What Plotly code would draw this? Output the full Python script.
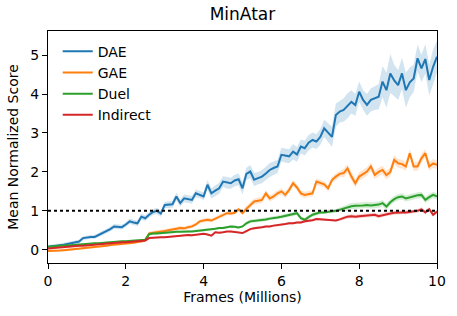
import plotly.graph_objects as go

frames = [round(i * 0.1, 1) for i in range(101)]

dae = [0.08, 0.09, 0.10, 0.12, 0.13, 0.15, 0.17, 0.19, 0.21, 0.30,
       0.32, 0.33, 0.33, 0.38, 0.42, 0.47, 0.53, 0.60, 0.59, 0.58,
       0.65, 0.73, 0.70, 0.68, 0.85, 0.81, 0.90, 0.97, 1.00, 0.93,
       1.15, 1.16, 1.17, 1.37, 1.20, 1.32, 1.30, 1.28, 1.45, 1.42,
       1.37, 1.67, 1.45, 1.52, 1.58, 1.75, 1.72, 1.71, 1.78, 1.81,
       1.58, 1.95, 2.01, 1.80, 1.84, 1.88, 1.96, 2.05, 2.10, 2.14,
       2.44, 2.42, 2.40, 2.52, 2.45, 2.65, 2.61, 2.75, 2.82, 2.78,
       2.90, 3.12, 3.00, 2.90, 3.46, 3.55, 3.59, 3.70, 3.80, 3.72,
       4.06, 3.85, 3.72, 3.85, 3.89, 3.93, 4.32, 4.10, 4.53, 4.35,
       4.23, 4.53, 4.10, 4.30, 4.40, 4.92, 4.66, 4.90, 4.36, 4.70,
       4.96]
dae_err = [0.04, 0.04, 0.04, 0.04, 0.05, 0.05, 0.05, 0.05, 0.05, 0.05,
           0.05, 0.05, 0.05, 0.05, 0.05, 0.06, 0.06, 0.06, 0.06, 0.06,
           0.06, 0.07, 0.07, 0.07, 0.08, 0.07, 0.07, 0.08, 0.08, 0.08,
           0.08, 0.09, 0.09, 0.10, 0.09, 0.10, 0.09, 0.10, 0.10, 0.09,
           0.10, 0.12, 0.13, 0.13, 0.14, 0.14, 0.15, 0.14, 0.15, 0.15,
           0.16, 0.16, 0.17, 0.17, 0.16, 0.17, 0.17, 0.18, 0.17, 0.17,
           0.18, 0.18, 0.18, 0.20, 0.19, 0.18, 0.19, 0.20, 0.19, 0.19,
           0.20, 0.22, 0.24, 0.26, 0.30, 0.28, 0.30, 0.32, 0.30, 0.28,
           0.26, 0.25, 0.28, 0.30, 0.30, 0.32, 0.40, 0.45, 0.50, 0.40,
           0.38, 0.40, 0.45, 0.38, 0.35, 0.35, 0.35, 0.38, 0.40, 0.45,
           0.40]

gae = [-0.03, -0.03, -0.02, -0.02, -0.01, 0.00, 0.00, 0.02, 0.03, 0.04,
       0.05, 0.06, 0.07, 0.08, 0.09, 0.10, 0.12, 0.13, 0.14, 0.14,
       0.16, 0.17, 0.18, 0.20, 0.21, 0.24, 0.42, 0.44, 0.45, 0.46,
       0.48, 0.50, 0.53, 0.54, 0.56, 0.55, 0.58, 0.60, 0.65, 0.73,
       0.75, 0.77, 0.75, 0.80, 0.85, 0.88, 0.94, 0.93, 0.95, 1.04,
       0.94, 1.05, 1.15, 1.24, 1.26, 1.28, 1.45, 1.32, 1.37, 1.45,
       1.50, 1.41, 1.54, 1.71, 1.60, 1.45, 1.41, 1.44, 1.45, 1.75,
       1.71, 1.68, 1.58, 1.79, 1.88, 1.95, 1.97, 2.09, 1.88, 1.71,
       1.88, 1.95, 2.01, 2.14, 1.92, 2.00, 2.05, 1.92, 2.00, 2.31,
       2.22, 2.20, 2.14, 2.48, 2.14, 2.14, 2.35, 2.48, 2.14, 2.22,
       2.18]
gae_err = [0.03] * 26 + [0.05] * 25 + [0.08] * 25 + [0.11] * 25

duel = [0.08, 0.09, 0.09, 0.10, 0.11, 0.11, 0.12, 0.13, 0.14, 0.14,
        0.15, 0.16, 0.17, 0.17, 0.18, 0.19, 0.20, 0.20, 0.21, 0.22,
        0.22, 0.23, 0.24, 0.25, 0.25, 0.26, 0.40, 0.42, 0.42, 0.43,
        0.44, 0.44, 0.45, 0.46, 0.46, 0.47, 0.47, 0.47, 0.48, 0.49,
        0.50, 0.51, 0.52, 0.54, 0.56, 0.56, 0.58, 0.60, 0.59, 0.57,
        0.60, 0.68, 0.73, 0.74, 0.76, 0.77, 0.78, 0.80, 0.81, 0.83,
        0.85, 0.87, 0.90, 0.91, 0.94, 0.81, 0.77, 0.84, 0.90, 0.93,
        0.96, 0.96, 0.98, 0.99, 1.00, 1.03, 1.05, 1.08, 1.12, 1.13,
        1.13, 1.14, 1.15, 1.14, 1.15, 1.16, 1.20, 1.11, 1.22, 1.30,
        1.35, 1.37, 1.32, 1.35, 1.37, 1.40, 1.41, 1.28, 1.35, 1.41,
        1.37]
duel_err = [0.02] * 26 + [0.03] * 25 + [0.05] * 25 + [0.08] * 25

indirect = [0.03, 0.04, 0.05, 0.06, 0.06, 0.07, 0.08, 0.09, 0.10, 0.10,
            0.11, 0.12, 0.13, 0.14, 0.14, 0.15, 0.16, 0.17, 0.18, 0.19,
            0.19, 0.20, 0.21, 0.22, 0.23, 0.24, 0.30, 0.31, 0.31, 0.32,
            0.32, 0.33, 0.34, 0.34, 0.35, 0.36, 0.38, 0.37, 0.38, 0.39,
            0.41, 0.39, 0.36, 0.45, 0.44, 0.45, 0.47, 0.47, 0.46, 0.45,
            0.43, 0.48, 0.53, 0.55, 0.56, 0.58, 0.60, 0.60, 0.62, 0.63,
            0.64, 0.66, 0.68, 0.68, 0.70, 0.70, 0.73, 0.74, 0.76, 0.79,
            0.78, 0.77, 0.77, 0.76, 0.75, 0.78, 0.82, 0.85, 0.86, 0.85,
            0.86, 0.87, 0.88, 0.89, 0.90, 0.86, 0.89, 0.92, 0.93, 0.95,
            0.96, 0.96, 0.96, 0.97, 0.98, 1.00, 1.04, 0.96, 1.04, 0.90,
            0.98]
indirect_err = [0.02] * 51 + [0.03] * 25 + [0.05] * 25

series = [
    ("DAE", dae, dae_err, "#1f77b4", "rgba(31,119,180,0.2)"),
    ("GAE", gae, gae_err, "#ff7f0e", "rgba(255,127,14,0.2)"),
    ("Duel", duel, duel_err, "#2ca02c", "rgba(44,160,44,0.2)"),
    ("Indirect", indirect, indirect_err, "#d62728", "rgba(214,39,40,0.2)"),
]

fig = go.Figure()
for name, y, e, col, fcol in series:
    upper = [a + b for a, b in zip(y, e)]
    lower = [a - b for a, b in zip(y, e)]
    fig.add_trace(go.Scatter(x=frames + frames[::-1], y=upper + lower[::-1],
                             fill="toself", fillcolor=fcol, line=dict(width=0),
                             mode="lines", showlegend=False, hoverinfo="skip"))
    fig.add_trace(go.Scatter(x=frames, y=y, mode="lines", name=name,
                             line=dict(color=col, width=2)))

fig.add_hline(y=1, line=dict(color="black", width=2, dash="dot"))

axis_common = dict(showline=True, linecolor="black", linewidth=1, mirror=True,
                   ticks="outside", ticklen=5, tickcolor="black", showgrid=False,
                   zeroline=False, automargin=False, tickfont=dict(size=14, color="black"))

fig.update_layout(
    width=457, height=316,
    margin=dict(l=48, r=20, t=31, b=53, autoexpand=False),
    paper_bgcolor="white", plot_bgcolor="white",
    font=dict(family="DejaVu Sans", color="black", size=14),
    title=dict(text="MinAtar", x=0.5, xref="paper", y=0.955, yanchor="middle",
               automargin=False, font=dict(size=17)),
    xaxis=dict(range=[0, 10], dtick=2, title=dict(text="Frames (Millions)", font=dict(size=14), standoff=4), **axis_common),
    yaxis=dict(range=[-0.34, 5.62], dtick=1, title=dict(text="Mean Normalized Score", font=dict(size=14), standoff=8), **axis_common),
    legend=dict(x=0.025, y=0.98, xanchor="left", yanchor="top", bgcolor="rgba(0,0,0,0)",
                font=dict(size=14), tracegroupgap=0, itemwidth=30),
)

fig.write_html("out.html", config={"displayModeBar": False},
               post_script="document.body.style.margin='0px';")
